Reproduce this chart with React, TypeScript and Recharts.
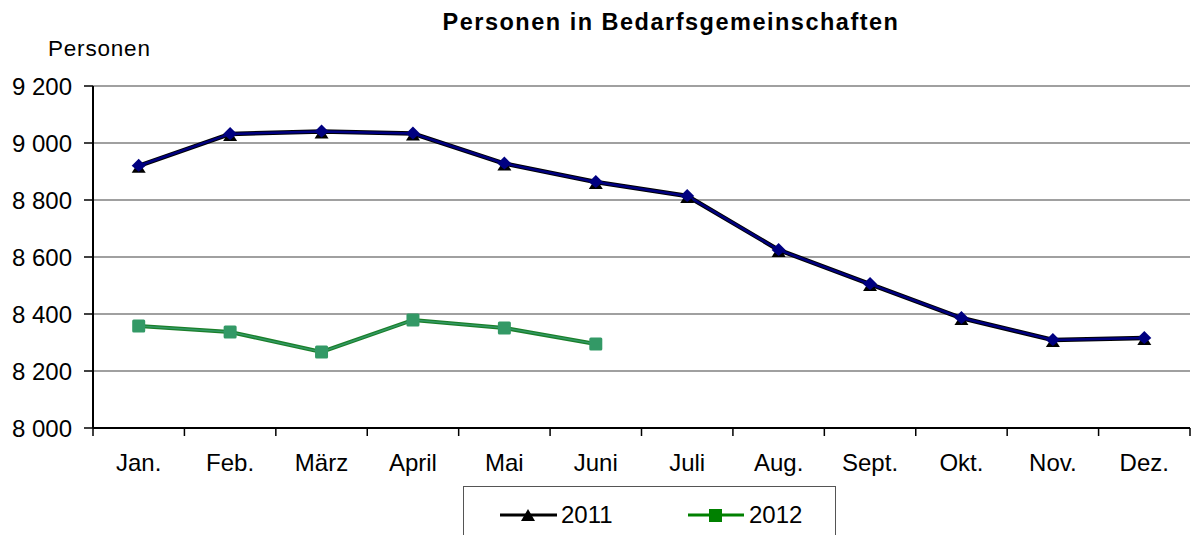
import { LineChart, Line, XAxis, YAxis, CartesianGrid } from 'recharts';

const months = ['Jan.', 'Feb.', 'März', 'April', 'Mai', 'Juni', 'Juli', 'Aug.', 'Sept.', 'Okt.', 'Nov.', 'Dez.'];
const values2011 = [8920, 9032, 9040, 9033, 8928, 8863, 8814, 8625, 8505, 8386, 8309, 8316];
const values2012 = [8358, 8337, 8267, 8379, 8351, 8295];
const yTicks = [8000, 8200, 8400, 8600, 8800, 9000, 9200];

const W = 1191;
const H = 535;
const PLOT_LEFT = 93;
const PLOT_RIGHT = 1190;
const STEP = (PLOT_RIGHT - PLOT_LEFT) / months.length;
const FONT = '"Liberation Sans", Arial, sans-serif';

const data = months.map((m, i) => ({
  month: m,
  y2011: values2011[i],
  y2012: i < values2012.length ? values2012[i] : null,
}));

const fmt = (v: number) => {
  const s = String(v);
  return s.length > 3 ? s.slice(0, s.length - 3) + ' ' + s.slice(-3) : s;
};

const Dot2011 = (props: any) => {
  const { cx, cy } = props;
  if (cx == null || cy == null) return null;
  return (
    <g>
      <polygon points={`${cx - 7},${cy + 7} ${cx + 7},${cy + 7} ${cx},${cy - 4}`} fill="#000" />
      <polygon points={`${cx},${cy - 7} ${cx + 7},${cy} ${cx},${cy + 6} ${cx - 7},${cy}`} fill="#000080" />
    </g>
  );
};

const Dot2012 = (props: any) => {
  const { cx, cy } = props;
  if (cx == null || cy == null) return null;
  return <rect x={cx - 6.5} y={cy - 6.5} width={13} height={13} rx={1.5} fill="#339966" />;
};

const MonthTick = (props: any) => {
  const { x, y, payload, index } = props;
  const left = x - STEP / 2;
  const top = y - 18 - 8;
  return (
    <g>
      <line x1={left} y1={top} x2={left} y2={top + 8} stroke="#000" strokeWidth={1.5} />
      {index === months.length - 1 && (
        <line x1={left + STEP} y1={top} x2={left + STEP} y2={top + 8} stroke="#000" strokeWidth={1.5} />
      )}
      <text x={x} y={y} dy="0.71em" textAnchor="middle" fill="#000" fontSize={24} fontFamily={FONT}>
        {payload.value}
      </text>
    </g>
  );
};

export default function App() {
  return (
    <div style={{ position: 'absolute', left: 0, top: 0, width: W, height: H, background: '#fff', fontFamily: FONT }}>
      <div style={{ position: 'absolute', left: 0, top: 9, width: 1342, textAlign: 'center', fontWeight: 'bold', fontSize: 23.5, letterSpacing: 1.5 }}>
        Personen in Bedarfsgemeinschaften
      </div>
      <div style={{ position: 'absolute', left: 48, top: 36, fontSize: 22.5, letterSpacing: 0.8 }}>Personen</div>
      <LineChart width={W} height={H} data={data} margin={{ top: 86, right: W - PLOT_RIGHT, left: 0, bottom: 47 }}>
        <CartesianGrid horizontal vertical={false} stroke="#808080" strokeWidth={1.5} />
        <XAxis
          dataKey="month"
          height={60}
          padding={{ left: STEP / 2, right: STEP / 2 }}
          tickLine={false}
          tickSize={8}
          tickMargin={18}
          axisLine={{ stroke: '#000', strokeWidth: 2 }}
          tick={<MonthTick />}
          interval={0}
        />
        <YAxis
          width={PLOT_LEFT}
          domain={[8000, 9200]}
          ticks={yTicks}
          tickFormatter={fmt}
          tickSize={9}
          tickMargin={12}
          axisLine={{ stroke: '#000', strokeWidth: 2 }}
          tickLine={{ stroke: '#000', strokeWidth: 1.5 }}
          tick={{ fill: '#000', fontSize: 24, fontFamily: FONT }}
        />
        <Line dataKey="y2011" stroke="#000" strokeWidth={4.5} dot={false} isAnimationActive={false} legendType="none" />
        <Line dataKey="y2011" stroke="#000080" strokeWidth={2.5} dot={<Dot2011 />} isAnimationActive={false} />
        <Line dataKey="y2012" stroke="#1a7f2a" strokeWidth={4} dot={false} isAnimationActive={false} connectNulls={false} legendType="none" />
        <Line dataKey="y2012" stroke="#339966" strokeWidth={1.5} dot={<Dot2012 />} isAnimationActive={false} connectNulls={false} />
      </LineChart>
      <div style={{ position: 'absolute', left: 463, top: 486, width: 373, height: 60, border: '1.5px solid #555', boxSizing: 'border-box' }}>
        <svg width={373} height={48} style={{ position: 'absolute', left: 0, top: 0 }}>
          <line x1={36} y1={28} x2={93} y2={28} stroke="#000" strokeWidth={3} />
          <polygon points="57,34 71,34 64,22" fill="#000" />
          <text x={97} y={36} fontSize={24} fontFamily={FONT}>2011</text>
          <line x1={224} y1={28} x2={280} y2={28} stroke="#008000" strokeWidth={3} />
          <rect x={245} y={22} width={13} height={13} fill="#008000" />
          <text x={285} y={36} fontSize={24} fontFamily={FONT}>2012</text>
        </svg>
      </div>
    </div>
  );
}
